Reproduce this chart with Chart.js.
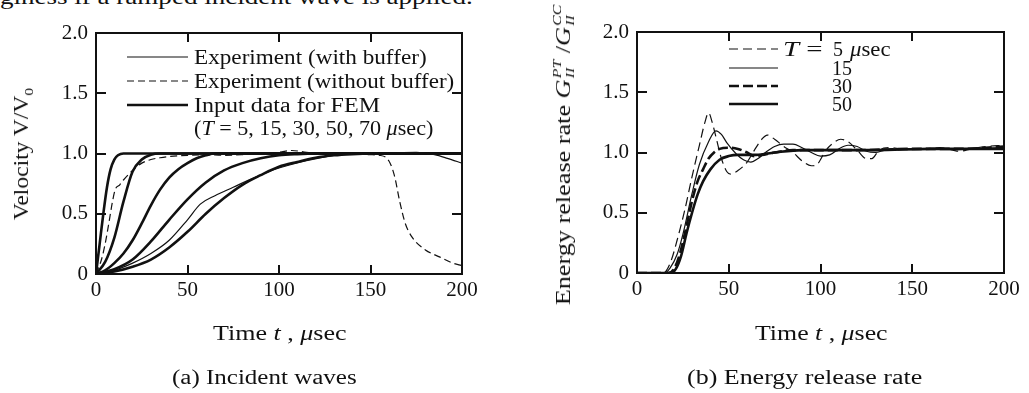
<!DOCTYPE html>
<html>
<head>
<meta charset="utf-8">
<script src="https://cdn.jsdelivr.net/npm/chart.js@4.4.1/dist/chart.umd.min.js"></script>
<style>
  html, body { margin: 0; padding: 0; background: #fff; }
  #page { position: relative; width: 1029px; height: 393px; overflow: hidden; font-family: 'Liberation Serif', 'Times New Roman', 'DejaVu Serif', serif; color: #111; }
  canvas { position: absolute; top: 0; }
  .t { position: absolute; white-space: nowrap; font-size: 20px; line-height: 20px; transform-origin: left center; }
  .r { transform-origin: center center; }
  .ss { display: inline-flex; flex-direction: column; font-size: 12px; line-height: 13px; vertical-align: 9px; font-style: italic; margin-left: 1px; }
  sub { font-size: 13px; line-height: 0; }
</style>
</head>
<body>
<div id="page">
  <div class="t" style="left:0; top:-3px" data-w="473">giness if a ramped incident wave is applied.</div>

  <canvas id="incident" width="520" height="393" style="left:0"></canvas>
  <canvas id="energy" width="509" height="393" style="left:520px"></canvas>

  <!-- panel (a) text -->
  <div class="t" style="left:194px; top:57px" data-w="233">Experiment (with buffer)</div>
  <div class="t" style="left:194px; top:81px" data-w="260">Experiment (without buffer)</div>
  <div class="t" style="left:194px; top:105px" data-w="186">Input data for FEM</div>
  <div class="t" style="left:194px; top:128px" data-w="239">(<i>T</i> = 5, 15, 30, 50, 70 <i>μ</i>sec)</div>
  <div class="t r" style="left:21px; top:154px" data-w="132">Velocity V/V<sub>0</sub></div>
  <div class="t" style="left:213px; top:333px" data-w="134">Time <i>t</i> , <i>μ</i>sec</div>
  <div class="t" style="left:172px; top:377px" data-w="185">(a) Incident waves</div>

  <!-- panel (b) text -->
  <div class="t" style="left:783px; top:49px" data-w="39"><i>T</i> =</div>
  <div class="t" style="left:833px; top:49px">5</div>
  <div class="t" style="left:850px; top:49px" data-w="41"><i>μ</i>sec</div>
  <div class="t" style="left:832px; top:68px">15</div>
  <div class="t" style="left:832px; top:86px">30</div>
  <div class="t" style="left:832px; top:104px">50</div>
  <div class="t r" style="left:564px; top:155px" data-w="300">Energy release rate <i>G</i><span class="ss"><span>PT</span><span>II</span></span> /<i>G</i><span class="ss"><span>CC</span><span>II</span></span></div>
  <div class="t" style="left:755px; top:333px" data-w="133">Time <i>t</i> , <i>μ</i>sec</div>
  <div class="t" style="left:687px; top:377px" data-w="235">(b) Energy release rate</div>
</div>

<script>
// ---- axes ----
const timeTicks = [0, 50, 100, 150, 200];
const ratioTicks = [0, 0.5, 1.0, 1.5, 2.0];

// ---- (a) incident waves: velocity V/V0 vs time (usec) ----
const femT5Time = [0, 2, 4, 6, 8, 10, 12, 15, 200];
const femT5Vel = [0, 0.25, 0.5, 0.72, 0.87, 0.95, 0.985, 1.0, 1.0];
const femT15Time = [0, 5, 10, 15, 20, 25, 30, 35, 200];
const femT15Vel = [0, 0.1, 0.3, 0.6, 0.85, 0.95, 0.99, 1.0, 1.0];
const femT30Time = [0, 5, 10, 15, 20, 25, 30, 35, 40, 45, 50, 55, 60, 65, 200];
const femT30Vel = [0, 0.03, 0.09, 0.17, 0.28, 0.42, 0.57, 0.7, 0.8, 0.87, 0.92, 0.96, 0.985, 1.0, 1.0];
const femT50Time = [0, 10, 20, 30, 40, 50, 60, 70, 80, 90, 100, 110, 120, 200];
const femT50Vel = [0, 0.04, 0.12, 0.27, 0.45, 0.62, 0.76, 0.86, 0.92, 0.96, 0.985, 0.995, 1.0, 1.0];
const femT70Time = [0, 10, 20, 30, 40, 50, 60, 70, 80, 90, 100, 110, 120, 130, 140, 150, 200];
const femT70Vel = [0, 0.02, 0.06, 0.12, 0.22, 0.35, 0.5, 0.63, 0.74, 0.82, 0.89, 0.93, 0.965, 0.985, 0.995, 1.0, 1.0];
const withBufTime = [0, 10, 20, 30, 40, 50, 57, 65, 75, 85, 100, 115, 130, 145, 160, 175, 185, 192, 200];
const withBufVel = [0, 0.03, 0.09, 0.17, 0.28, 0.45, 0.58, 0.65, 0.72, 0.79, 0.88, 0.94, 0.985, 1.0, 1.005, 1.01, 0.99, 0.96, 0.92];
const noBufTime = [0, 3, 5, 7, 9, 10.5, 13, 15, 20, 25, 30, 35, 40, 50, 60, 70, 80, 90, 100, 107, 115, 125, 140, 150, 155, 160, 163, 166, 169, 173, 180, 188, 195, 200];
const noBufVel = [0, 0.12, 0.25, 0.42, 0.6, 0.7, 0.74, 0.78, 0.86, 0.92, 0.95, 0.965, 0.975, 0.985, 0.99, 0.985, 0.99, 1.0, 1.01, 1.025, 1.01, 1.0, 0.995, 0.99, 0.985, 0.94, 0.82, 0.6, 0.42, 0.3, 0.2, 0.14, 0.09, 0.07];

// ---- (b) energy release rate G_II^PT / G_II^CC vs time (usec) ----
const errT5Time = [0, 14, 16, 19, 22, 26, 30, 34, 37, 39, 41, 43, 46, 49, 51, 55, 60, 64, 68, 71, 75, 80, 85, 90, 95, 98, 103, 107, 111, 115, 120, 125, 128, 132, 138, 145, 155, 165, 172, 176, 182, 190, 200];
const errT5Val = [0, 0, 0.02, 0.12, 0.28, 0.52, 0.8, 1.06, 1.25, 1.33, 1.25, 1.13, 0.95, 0.84, 0.82, 0.85, 0.92, 1.02, 1.11, 1.145, 1.11, 1.05, 1.0, 0.93, 0.89, 0.9, 1.02, 1.08, 1.11, 1.09, 1.02, 0.95, 0.95, 1.02, 1.04, 1.03, 1.03, 1.04, 1.02, 1.01, 1.03, 1.05, 1.06];
const errT15Time = [0, 15, 18, 22, 25, 30, 34, 39, 43, 46, 49, 54, 58, 62, 66, 70, 75, 80, 85, 90, 95, 100, 105, 110, 115, 120, 125, 130, 135, 145, 160, 175, 200];
const errT15Val = [0, 0, 0.04, 0.16, 0.32, 0.66, 0.9, 1.09, 1.18, 1.15, 1.08, 0.99, 0.94, 0.92, 0.95, 1.0, 1.05, 1.07, 1.07, 1.04, 1.0, 0.97, 0.98, 1.03, 1.06, 1.05, 1.01, 1.0, 1.02, 1.03, 1.03, 1.03, 1.04];
const errT30Time = [0, 17, 20, 23, 26, 30, 33, 36, 39, 42, 45, 50, 55, 60, 64, 68, 75, 85, 100, 120, 150, 175, 200];
const errT30Val = [0, 0, 0.03, 0.14, 0.32, 0.6, 0.76, 0.86, 0.95, 1.0, 1.03, 1.04, 1.03, 1.0, 0.97, 0.98, 1.0, 1.02, 1.02, 1.02, 1.03, 1.03, 1.05];
const errT50Time = [0, 18, 21, 24, 27, 30, 33, 36, 40, 45, 50, 55, 65, 75, 90, 110, 130, 160, 200];
const errT50Val = [0, 0, 0.03, 0.14, 0.33, 0.5, 0.65, 0.76, 0.86, 0.94, 0.97, 0.98, 0.98, 1.0, 1.02, 1.02, 1.02, 1.03, 1.03];

const INK = '#111';
const THIN = 1.2, THICK = 2.6;
const tickFont = { family: "'Liberation Serif', 'Times New Roman', 'DejaVu Serif', serif", size: 21 };

const pts = (xs, ys) => xs.map((x, i) => ({ x, y: ys[i] }));
const series = (xs, ys, width, dash) => ({
    data: pts(xs, ys), showLine: true, borderColor: INK, borderWidth: width,
    borderDash: dash || [], pointRadius: 0, fill: false, cubicInterpolationMode: 'monotone'
});

// box frame, inward ticks on all four sides, and legend line samples
const frameTicks = {
    id: 'frameTicks',
    afterDatasetsDraw(chart, args, opts) {
        const { ctx, chartArea: a, scales: { x, y } } = chart;
        ctx.save();
        ctx.strokeStyle = INK;
        ctx.lineWidth = 2;
        ctx.setLineDash([]);
        ctx.strokeRect(a.left, a.top, a.right - a.left, a.bottom - a.top);
        ctx.beginPath();
        x.ticks.forEach(t => {
            if (t.value <= x.min || t.value >= x.max) return;
            const px = Math.round(x.getPixelForValue(t.value));
            ctx.moveTo(px, a.bottom); ctx.lineTo(px, a.bottom - 9);
            ctx.moveTo(px, a.top); ctx.lineTo(px, a.top + 9);
        });
        y.ticks.forEach(t => {
            if (t.value <= y.min || t.value >= y.max) return;
            const py = Math.round(y.getPixelForValue(t.value));
            ctx.moveTo(a.left, py); ctx.lineTo(a.left + 10, py);
            ctx.moveTo(a.right, py); ctx.lineTo(a.right - 10, py);
        });
        ctx.stroke();
        (opts.samples || []).forEach(s => {
            ctx.beginPath();
            ctx.lineWidth = s.w;
            ctx.setLineDash(s.dash || []);
            ctx.moveTo(s.x1, s.y); ctx.lineTo(s.x2, s.y);
            ctx.stroke();
        });
        ctx.restore();
    }
};

function makeChart(id, datasets, box, samples) {
    return new Chart(document.getElementById(id), {
        type: 'scatter',
        data: { datasets },
        options: {
            responsive: false, animation: false, devicePixelRatio: 1,
            layout: { padding: { left: 0, top: box.top, right: box.right, bottom: 0 } },
            plugins: { legend: { display: false }, tooltip: { enabled: false }, frameTicks: { samples } },
            scales: {
                x: {
                    type: 'linear', min: 0, max: 200,
                    afterBuildTicks: s => { s.ticks = timeTicks.map(v => ({ value: v })); },
                    afterFit: s => { s.height = box.xh; },
                    grid: { display: false, drawTicks: false }, border: { display: false },
                    ticks: { color: INK, font: tickFont, padding: 4, maxRotation: 0, callback: v => String(v) }
                },
                y: {
                    type: 'linear', min: 0, max: 2,
                    afterBuildTicks: s => { s.ticks = ratioTicks.map(v => ({ value: v })); },
                    afterFit: s => { s.width = box.yw; },
                    grid: { display: false, drawTicks: false }, border: { display: false },
                    ticks: { color: INK, font: tickFont, padding: 8, callback: v => v === 0 ? '0' : v.toFixed(1) }
                }
            }
        },
        plugins: [frameTicks]
    });
}

makeChart('incident', [
    series(withBufTime, withBufVel, THIN),
    series(noBufTime, noBufVel, THIN, [7, 4]),
    series(femT5Time, femT5Vel, THICK),
    series(femT15Time, femT15Vel, THICK),
    series(femT30Time, femT30Vel, THICK),
    series(femT50Time, femT50Vel, THICK),
    series(femT70Time, femT70Vel, THICK)
], { top: 33, right: 58, yw: 96, xh: 119 }, [
    { x1: 127, x2: 188, y: 57, w: THIN },
    { x1: 127, x2: 188, y: 81, w: THIN, dash: [7, 4] },
    { x1: 127, x2: 188, y: 105, w: THICK }
]);

makeChart('energy', [
    series(errT5Time, errT5Val, THIN, [9, 5]),
    series(errT15Time, errT15Val, THIN),
    series(errT30Time, errT30Val, THICK, [10, 4]),
    series(errT50Time, errT50Val, THICK)
], { top: 32, right: 25, yw: 117, xh: 120 }, [
    { x1: 209, x2: 258, y: 49, w: THIN, dash: [9, 5] },
    { x1: 209, x2: 258, y: 68, w: THIN },
    { x1: 209, x2: 258, y: 86, w: THICK, dash: [10, 4] },
    { x1: 209, x2: 258, y: 104, w: THICK }
]);

// stretch text horizontally to the widths measured on the scan
document.querySelectorAll('.t').forEach(el => {
    const k = el.dataset.w ? +el.dataset.w / el.offsetWidth : 1;
    el.style.transform = el.classList.contains('r')
        ? `translate(-50%,-50%) rotate(-90deg) scaleX(${k})`
        : `translateY(-50%) scaleX(${k})`;
});
</script>
</body>
</html>
